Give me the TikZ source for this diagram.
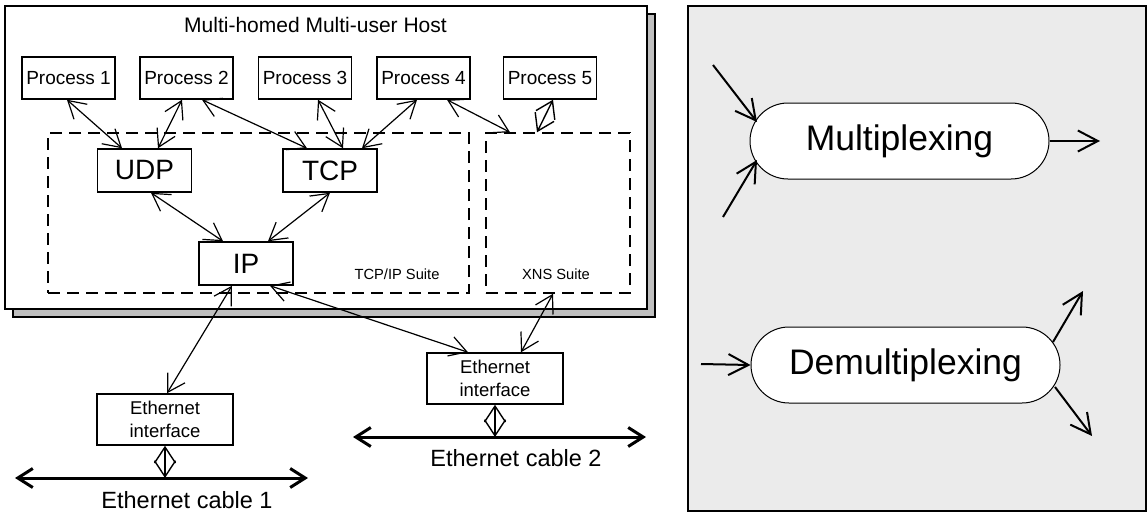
\documentclass[tikz,border=0pt]{standalone}
\usepackage{fontspec}
\setmainfont{Liberation Sans}
\usetikzlibrary{arrows.meta}
\tikzset{
  sbarb/.tip={Straight Barb[length=17pt,width=20pt]},
  dbarb/.tip={Straight Barb[length=16pt,width=21pt]},
  cbarb/.tip={Straight Barb[length=15pt,width=19pt]},
  rbarb/.tip={Straight Barb[length=20pt,width=21pt]},
  pbox/.style={draw,line width=1.5pt,fill=white,inner sep=0pt,minimum width=93pt,minimum height=42pt,font=\fontsize{19}{22}\selectfont},
  pbig/.style={pbox,minimum width=94pt,minimum height=43pt,font=\fontsize{28}{32}\selectfont},
  ebox/.style={draw,line width=1.5pt,fill=white,inner sep=0pt,minimum width=136pt,minimum height=51pt,align=center,font=\fontsize{18.5}{23}\selectfont},
  suite/.style={draw,dash pattern=on 12pt off 7pt,line width=1.5pt,inner sep=0pt,minimum height=160pt},
  biline/.style={line width=1.2pt,sbarb-sbarb},
  diam/.style={line width=1.4pt,dbarb-dbarb},
  cable/.style={line width=3pt,cbarb-cbarb},
  oneway/.style={line width=2pt,-rbarb},
  mbox/.style={draw,line width=1pt,fill=white,rounded corners=38pt,minimum height=76pt,inner sep=0pt,font=\fontsize{35.5}{40}\selectfont},
  lbl/.style={inner sep=0pt,anchor=base}
}
\begin{document}
\begin{tikzpicture}[x=1pt,y=-1pt]
\useasboundingbox (0,0) rectangle (1148,514);
% host with shadow
\node[draw,line width=1.2pt,fill=black!25,minimum width=642pt,minimum height=303pt,inner sep=0pt] (shadow) at (334,165.5) {};
\node[draw,line width=2pt,fill=white,minimum width=642pt,minimum height=303pt,inner sep=0pt] (host) at (326,157.5) {};
\node[lbl,font=\fontsize{21}{24}\selectfont] (title) at (315.5,32) {Multi-homed Multi-user Host};
% suites
\node[suite,minimum width=421pt] (tcpip) at (258.5,213) {};
\node[suite,minimum width=144pt] (xns) at (558,213) {};
\node[lbl,font=\fontsize{14.7}{17}\selectfont] (tcpiplbl) at (397,279) {TCP/IP Suite};
\node[lbl,font=\fontsize{14.7}{17}\selectfont] (xnslbl) at (556,279) {XNS Suite};
% processes
\node[pbox] (p1) at (68.5,78) {Process 1};
\node[pbox] (p2) at (186.5,78) {Process 2};
\node[pbox] (p3) at (305,78) {Process 3};
\node[pbox] (p4) at (423.5,78) {Process 4};
\node[pbox] (p5) at (550,78) {Process 5};
% protocols
\node[pbig] (udp) at (144.5,170.5) {UDP};
\node[pbig] (tcp) at (330,170.5) {TCP};
\node[pbig] (ip) at (246,263.5) {IP};
% interfaces
\node[ebox] (eth1) at (165,419.5) {Ethernet\\interface};
\node[ebox] (eth2) at (495,378.5) {Ethernet\\interface};
% cables
\coordinate (c1a) at (15,478);
\coordinate (c1b) at (308,478);
\coordinate (c2a) at (353,437);
\coordinate (c2b) at (646,437);
\draw[cable] (c1a) -- (c1b);
\draw[cable] (c2a) -- (c2b);
\node[lbl,font=\fontsize{23.5}{26}\selectfont] (cab1) at (187,508) {Ethernet cable 1};
\node[lbl,font=\fontsize{23.5}{26}\selectfont] (cab2) at (516,466) {Ethernet cable 2};
% connectors
\draw[biline] ([xshift=-1.5pt]p1.south) -- ([xshift=-22.5pt]udp.north);
\draw[biline] ([xshift=-4.5pt]p2.south) -- ([xshift=13.5pt]udp.north);
\draw[biline] ([xshift=15.5pt]p2.south) -- ([xshift=-23pt]tcp.north);
\draw[biline] ([xshift=13pt]p3.south) -- ([xshift=13pt]tcp.north);
\draw[biline] ([xshift=-6.5pt]p4.south) -- ([xshift=32pt]tcp.north);
\draw[biline] ([xshift=23.5pt]p4.south) -- ([xshift=-48pt]xns.north);
\draw[diam] ([xshift=3pt]p5.south) -- ([xshift=-21pt]xns.north);
\draw[biline] ([xshift=6.5pt]udp.south) -- ([xshift=-23pt]ip.north);
\draw[biline] (tcp.south) -- ([xshift=22pt]ip.north);
\draw[biline] ([xshift=-14pt]ip.south) -- ([xshift=2pt]eth1.north);
\draw[biline] ([xshift=24pt]ip.south) -- ([xshift=-27pt]eth2.north);
\draw[biline] ([xshift=-5pt]xns.south) -- ([xshift=26pt]eth2.north);
\draw[diam] (eth1.south) -- (eth1.south |- c1a);
\draw[diam] (eth2.south) -- (eth2.south |- c2a);
% right panel
\node[draw,line width=1.5pt,fill=black!8,minimum width=458pt,minimum height=505pt,inner sep=0pt] (panel) at (917,258.5) {};
\node[mbox,minimum width=299pt] (mux) at (899.5,141) {Multiplexing};
\node[mbox,minimum width=309pt] (demux) at (905.5,365) {Demultiplexing};
\coordinate (mi1) at (713,65);
\coordinate (mi2) at (723,217);
\coordinate (mo) at (1100,141);
\coordinate (di) at (701,364);
\coordinate (do1) at (1083,291);
\coordinate (do2) at (1092,436);
\draw[oneway] (mi1) -- ([shift={(-142.5,-19)}]mux.center);
\draw[oneway] (mi2) -- ([shift={(-142.5,19)}]mux.center);
\draw[oneway] (mux.east) -- (mo);
\draw[oneway] (di) -- (demux.west);
\draw[oneway] ([shift={(147.5,-23)}]demux.center) -- (do1);
\draw[oneway] ([shift={(149.5,22)}]demux.center) -- (do2);
\end{tikzpicture}
\end{document}
